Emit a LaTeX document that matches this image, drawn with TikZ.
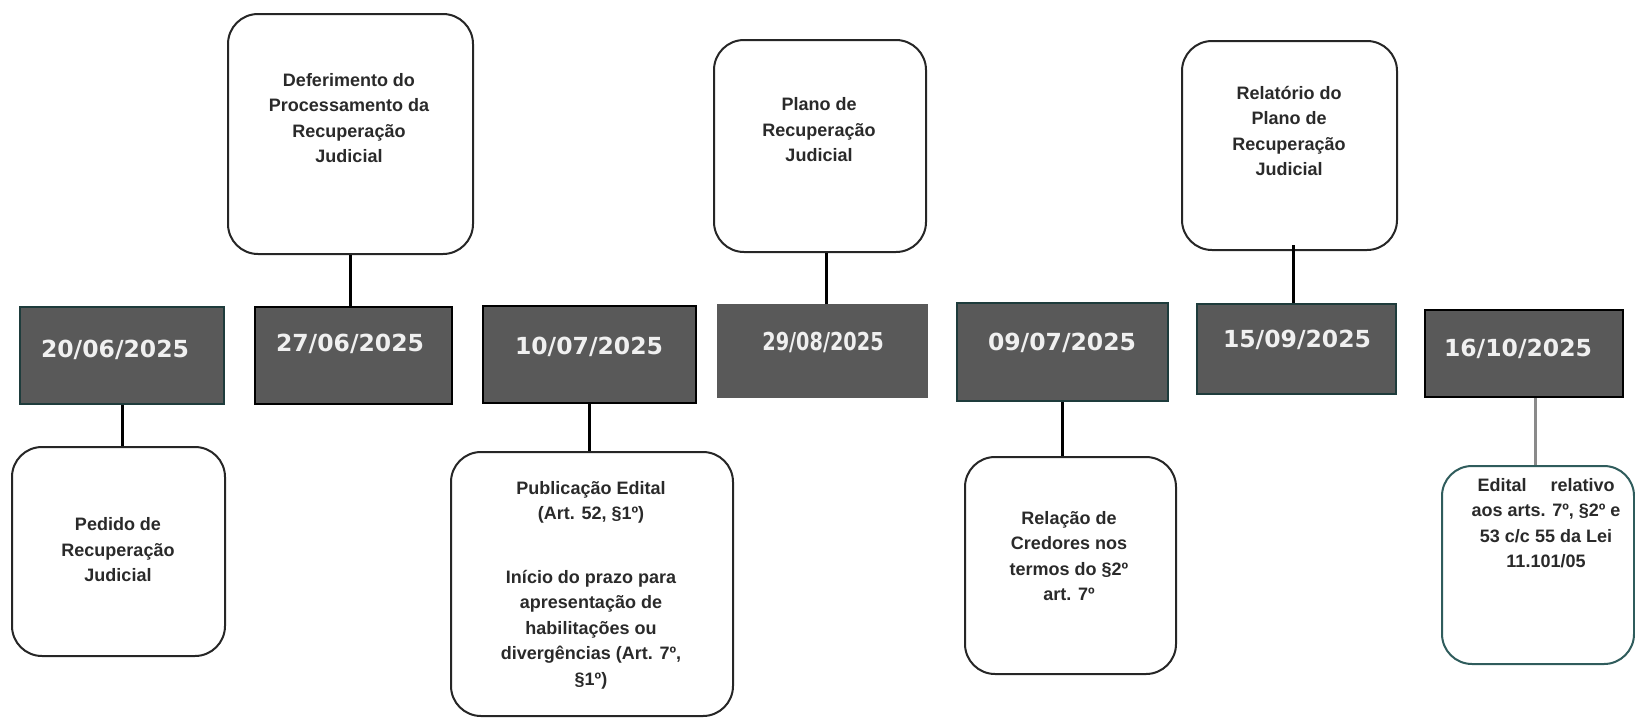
\documentclass[tikz,border=0pt]{standalone}
\usepackage{fontspec}
\setmainfont{Liberation Sans}
\newfontfamily\datefont{DejaVu Sans}
\usepackage{graphicx}
\definecolor{dategray}{HTML}{595959}
\definecolor{tealdark}{HTML}{1E3C3C}
\definecolor{tealbox}{HTML}{2F5C5C}
\definecolor{boxtext}{HTML}{2A2A2A}
\definecolor{linkgray}{HTML}{8A8A8A}
\begin{document}
\begin{tikzpicture}[x=1pt,y=-1pt,
  datebox/.style={draw=#1, line width=2pt, fill=dategray, inner sep=0pt, anchor=north west},
  datetext/.style={text=white!94!black, font=\datefont\bfseries\fontsize{23.5}{28}\selectfont, inner sep=0pt},
  evbox/.style={draw=black!85, line width=2pt, rounded corners=30pt, fill=white, inner sep=0pt, anchor=north west},
  evtext/.style={text=boxtext, font=\bfseries\fontsize{18}{25.5}\selectfont, align=center, inner sep=0pt},
  link/.style={line width=3pt, black},
]
\useasboundingbox (0,0) rectangle (1635,718);

% date boxes
\node[datebox=tealdark, minimum width=204pt, minimum height=97pt] (d1) at (19,306) {};
\node[datebox=black, minimum width=197pt, minimum height=97pt] (d2) at (254,306) {};
\node[datebox=black, minimum width=213pt, minimum height=97pt] (d3) at (482,305) {};
\node[datebox=dategray, minimum width=209pt, minimum height=92pt] (d4) at (717,304) {};
\node[datebox=tealdark, minimum width=211pt, minimum height=98pt] (d5) at (956,302) {};
\node[datebox=tealdark, minimum width=199pt, minimum height=90pt] (d6) at (1196,303) {};
\node[datebox=black, minimum width=198pt, minimum height=87pt] (d7) at (1424,309) {};

\node[datetext] (t1) at (115,350) {20/06/2025};
\node[datetext] (t2) at (350,344) {27/06/2025};
\node[datetext] (t3) at (589,347) {10/07/2025};
\node[datetext] (t4) at (823,342) {\scalebox{0.82}[1.05]{29/08/2025}};
\node[datetext] (t5) at (1062,343) {09/07/2025};
\node[datetext] (t6) at (1297,340) {15/09/2025};
\node[datetext] (t7) at (1518,349) {16/10/2025};

% event boxes
\node[evbox, minimum width=245pt, minimum height=240pt] (A) at (227,13) {};
\node[evbox, minimum width=212pt, minimum height=212pt] (B) at (713,39) {};
\node[evbox, minimum width=215pt, minimum height=209pt] (C) at (1181,40) {};
\node[evbox, minimum width=213pt, minimum height=209pt] (D) at (11,446) {};
\node[evbox, minimum width=282pt, minimum height=264pt] (E) at (450,451) {};
\node[evbox, minimum width=211pt, minimum height=217pt] (F) at (964,456) {};
\node[evbox, draw=tealbox, minimum width=192pt, minimum height=198pt] (G) at (1441,465) {};

\node[evtext] (tA) at (349,118) {Deferimento do\\Processamento da\\Recuperação\\Judicial};
\node[evtext] (tB) at (819,130) {Plano de\\Recuperação\\Judicial};
\node[evtext] (tC) at (1289,131) {Relatório do\\Plano de\\Recuperação\\Judicial};
\node[evtext] (tD) at (118,550) {Pedido de\\Recuperação\\Judicial};
\node[evtext, anchor=north] (tE) at (591,481) {Publicação Edital\\(Art. 52, §1º)\\[38pt]Início do prazo para\\apresentação de\\habilitações ou\\divergências (Art. 7º,\\§1º)};
\node[evtext] (tF) at (1069,556) {Relação de\\Credores nos\\termos do §2º\\art. 7º};
\node[evtext] (tG) at (1546,523) {Edital\hspace{24pt}relativo\\aos arts. 7º, §2º e\\53 c/c 55 da Lei\\11.101/05};

% connectors
\draw[link] (d1.south) -- (d1.south |- D.north);
\draw[link] (A.south) -- (A.south |- d2.north);
\draw[link] (d3.south) -- (d3.south |- E.north);
\draw[link] ([xshift=4pt]d4.north) -- ([xshift=4pt]d4.north |- B.south);
\draw[link] (d5.south) -- (d5.south |- F.north);
\draw[link] ([xshift=-3pt]d6.north) -- ([xshift=-3pt,yshift=6pt]d6.north |- C.south);
\draw[link, linkgray] ([xshift=-3pt]G.north) -- ([xshift=-3pt]G.north |- d7.south);
\end{tikzpicture}
\end{document}
